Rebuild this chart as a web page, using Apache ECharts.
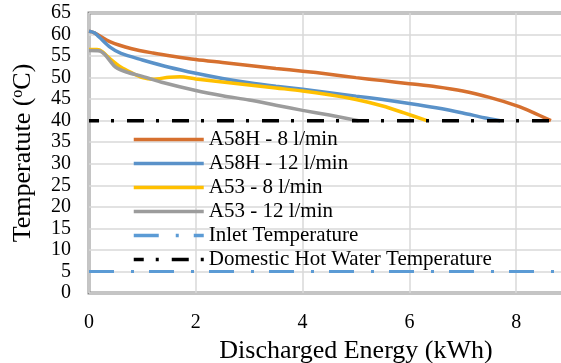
<!DOCTYPE html>
<html>
<head>
<meta charset="utf-8">
<script src="https://cdn.jsdelivr.net/npm/echarts@6/dist/echarts.min.js"></script>
<style>
  html, body { margin: 0; padding: 0; background: #fff; }
  #chart { width: 561px; height: 363px; }
</style>
</head>
<body>
<div id="chart"></div>
<script>
// 图例名称
var seriesNames = ['A58H - 8 l/min', 'A58H - 12 l/min', 'A53 - 8 l/min', 'A53 - 12 l/min',
                   'Inlet Temperature', 'Domestic Hot Water Temperature'];

// [放出能量 kWh, 温度 ºC]，从图上读的
var a58h8 = [[0, 60.8], [0.1, 60.4], [0.4, 58.3], [0.8, 56.7], [1.2, 55.7], [1.6, 54.9], [2, 54.2],
             [2.5, 53.5], [3, 52.8], [3.5, 52.1], [4, 51.5], [4.5, 50.8], [5, 50.0], [5.5, 49.3],
             [6, 48.6], [6.5, 47.9], [7, 46.9], [7.5, 45.4], [8, 43.5], [8.3, 42.0], [8.65, 40]];
var a58h12 = [[0, 60.8], [0.1, 60.4], [0.2, 59.3], [0.4, 57.0], [0.6, 55.6], [1, 54.1], [1.5, 52.4],
              [2, 51.0], [2.5, 49.8], [3, 48.8], [3.5, 48.0], [4, 47.3], [4.5, 46.5], [5, 45.7],
              [5.5, 44.9], [6, 44.0], [6.5, 43.0], [7, 41.8], [7.4, 40.7], [7.7, 40]];
var a53_8 = [[0, 56.5], [0.15, 56.5], [0.25, 56.0], [0.4, 54.3], [0.6, 52.4], [0.8, 51.1], [1.0, 50.0],
             [1.2, 49.6], [1.5, 50.1], [1.7, 50.2], [2, 49.7], [2.5, 49.0], [3, 48.3], [3.5, 47.6],
             [4, 46.9], [4.5, 46.0], [5, 44.9], [5.5, 43.4], [5.9, 41.8], [6.33, 40]];
var a53_12 = [[0, 56.3], [0.2, 56.2], [0.3, 55.3], [0.4, 53.8], [0.5, 52.4], [0.7, 51.3], [1, 50.3],
              [1.4, 48.8], [2, 47.0], [2.5, 45.8], [3, 44.8], [3.5, 43.6], [4, 42.4], [4.5, 41.3],
              [5.05, 40]];
var inletTemp = [[0, 5], [10, 5]];
var dhwTemp = [[0, 40], [10, 40]];

var xTicks = [0, 2, 4, 6, 8, 10];
var yTicks = [0, 5, 10, 15, 20, 25, 30, 35, 40, 45, 50, 55, 60, 65];

var font = "'Liberation Serif', 'Times New Roman', serif";

var myChart = echarts.init(document.getElementById('chart'));

function curve(name, data, color) {
    return {
        name: name,
        type: 'line',
        data: data,
        smooth: 0.3,
        symbol: 'none',
        lineStyle: { color: color, width: 3.5 },
        itemStyle: { color: color }
    };
}

var option = {
    animation: false,
    backgroundColor: '#fff',
    textStyle: { fontFamily: font, color: '#000' },
    grid: {
        left: 89, right: -62, top: 13, bottom: 70,
        show: true, borderColor: '#8a8a8a', borderWidth: 3,
        containLabel: false, outerBoundsMode: 'none'
    },
    legend: {
        orient: 'vertical',
        left: 127, top: 124,
        itemWidth: 70, itemHeight: 14, itemGap: 3,
        itemTextGap: 8,
        data: seriesNames,
        itemStyle: { opacity: 0, borderWidth: 0 },   // 不要图例里的圆点
        lineStyle: { width: 3.5 },
        textStyle: { fontFamily: font, fontSize: 21, color: '#000', lineHeight: 20 }
    },
    xAxis: {
        type: 'value',
        min: xTicks[0], max: xTicks[xTicks.length - 1], interval: 2,
        name: 'Discharged Energy (kWh)',
        nameLocation: 'middle', nameGap: 43,
        nameTextStyle: { fontFamily: font, fontSize: 26, color: '#000' },
        axisLine: { show: false },
        axisTick: { show: false },
        axisLabel: { fontFamily: font, fontSize: 20, color: '#000', margin: 20 },
        splitLine: { show: true, lineStyle: { color: '#d9d9d9', width: 1.5 } }
    },
    yAxis: {
        type: 'value',
        min: yTicks[0], max: yTicks[yTicks.length - 1], interval: 5,
        name: '{n|Temperatute (}{s|o}{n|C)}',
        nameLocation: 'middle', nameGap: 53,
        nameTextStyle: {
            rich: {
                n: { fontFamily: font, fontSize: 26, color: '#000' },
                s: { fontFamily: font, fontSize: 16, color: '#000', verticalAlign: 'top' }
            }
        },
        axisLine: { show: false },
        axisTick: { show: false },
        axisLabel: { fontFamily: font, fontSize: 20, color: '#000', margin: 18 },
        splitLine: { show: true, lineStyle: { color: '#d9d9d9', width: 1.5 } }
    },
    series: [
        curve(seriesNames[0], a58h8, '#d6702f'),
        curve(seriesNames[1], a58h12, '#5a92c9'),
        curve(seriesNames[2], a53_8, '#ffc000'),
        curve(seriesNames[3], a53_12, '#9c9c9c'),
        {
            name: seriesNames[4], type: 'line', data: inletTemp, symbol: 'none',
            lineStyle: { color: '#5b9bd5', width: 3, type: [25, 17, 3, 15] },
            itemStyle: { color: '#5b9bd5' }
        },
        {
            name: seriesNames[5], type: 'line', data: dhwTemp, symbol: 'none',
            lineStyle: { color: '#000', width: 3.5, type: [17, 12, 3, 13], dashOffset: 7 },
            itemStyle: { color: '#000' }
        }
    ]
};
myChart.setOption(option);
</script>
</body>
</html>
